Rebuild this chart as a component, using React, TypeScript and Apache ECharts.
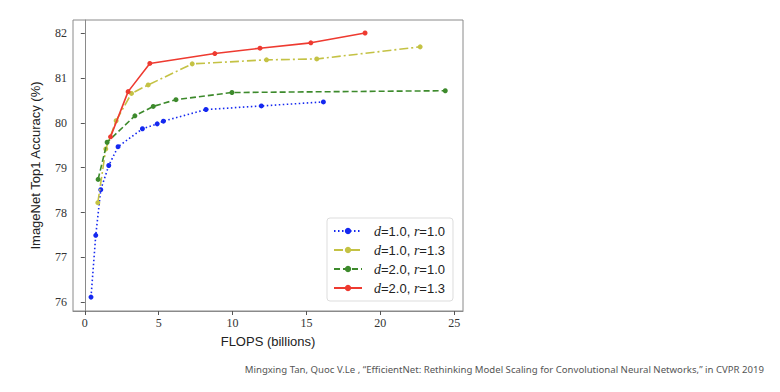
import React, { useEffect, useRef } from "react";
import * as echarts from "echarts";

const seriesNames = ["d=1.0, r=1.0", "d=1.0, r=1.3", "d=2.0, r=1.0", "d=2.0, r=1.3"];

const blueX = [0.42, 0.74, 1.08, 1.62, 2.25, 3.9, 4.9, 5.32, 8.2, 11.95, 16.15];
const blueY = [76.11, 77.49, 78.51, 79.05, 79.47, 79.87, 79.98, 80.04, 80.3, 80.38, 80.47];

const yellowX = [0.88, 1.42, 2.12, 3.16, 4.29, 7.27, 12.3, 15.7, 22.7];
const yellowY = [78.22, 79.42, 80.05, 80.66, 80.85, 81.32, 81.41, 81.43, 81.7];

const greenX = [0.9, 1.51, 3.39, 4.63, 6.17, 9.96, 24.4];
const greenY = [78.74, 79.57, 80.16, 80.37, 80.52, 80.68, 80.72];

const redX = [1.74, 2.93, 4.4, 8.8, 11.86, 15.3, 18.97];
const redY = [79.69, 80.7, 81.33, 81.55, 81.67, 81.79, 82.01];

const xTicks = [0, 5, 10, 15, 20, 25];
const yTicks = [76, 77, 78, 79, 80, 81, 82];

const footnote =
  "Mingxing Tan, Quoc V.Le , \u201cEfficientNet: Rethinking Model Scaling for Convolutional Neural Networks,\u201d in CVPR 2019";

const colors = ["#1428f0", "#c4c244", "#3d8a2c", "#ee3a30"];
const dashes: any[] = [[1.5, 2.5], [9, 3, 2, 3], [6, 3], "solid"];

const zip = (xs: number[], ys: number[]) => xs.map((x, i) => [x, ys[i]]);

export default function App() {
  const ref = useRef<HTMLDivElement>(null);
  useEffect(() => {
    const chart = echarts.init(ref.current!, undefined, { renderer: "svg" });
    const data = [zip(blueX, blueY), zip(yellowX, yellowY), zip(greenX, greenY), zip(redX, redY)];
    const serif = "Liberation Serif";
    const sans = "Liberation Sans";
    const tickLabel = {
      fontFamily: serif,
      fontSize: 12,
      color: "#333",
      margin: 6,
      formatter: "{s|{value}}",
      rich: { s: { fontFamily: serif, fontSize: 12, color: "#333" } },
    };
    chart.setOption({
      animation: false,
      backgroundColor: "#ffffff",
      grid: {
        left: 73,
        top: 20,
        right: 317,
        bottom: 81,
        show: true,
        borderColor: "#8a8a8a",
        borderWidth: 1,
      },
      xAxis: {
        type: "value",
        min: -0.8,
        max: 25.6,
        name: "FLOPS (billions)",
        nameLocation: "middle",
        nameGap: 24,
        nameTextStyle: { fontFamily: sans, fontSize: 13, color: "#222" },
        axisLine: { show: true, lineStyle: { color: "#8a8a8a" } },
        axisTick: { show: true, customValues: xTicks, length: 4, lineStyle: { color: "#555" } },
        axisLabel: { customValues: xTicks, ...tickLabel },
        splitLine: { show: false },
      },
      yAxis: {
        type: "value",
        min: 75.8,
        max: 82.3,
        name: "ImageNet Top1 Accuracy (%)",
        nameLocation: "middle",
        nameGap: 31,
        nameRotate: 90,
        nameTextStyle: { fontFamily: sans, fontSize: 13, color: "#222" },
        axisLine: { show: true, lineStyle: { color: "#8a8a8a" } },
        axisTick: { show: true, customValues: yTicks, length: 4, lineStyle: { color: "#555" } },
        axisLabel: { customValues: yTicks, ...tickLabel },
        splitLine: { show: false },
      },
      legend: {
        orient: "vertical",
        left: 327,
        top: 218,
        width: 130,
        backgroundColor: "#ffffff",
        borderColor: "#dddddd",
        borderWidth: 1,
        borderRadius: 3,
        padding: [6, 8, 6, 6],
        itemWidth: 28,
        itemHeight: 8,
        itemGap: 5,
        textStyle: {
          fontFamily: sans,
          fontSize: 13,
          color: "#222",
          padding: [0, 0, 0, 7],
          rich: {
            i: { fontFamily: serif, fontStyle: "italic", fontSize: 14, color: "#222" },
          },
        },
        formatter: (name: string) => name.replace(/([dr])=/g, "{i|$1}="),
        data: seriesNames,
      },
      series: seriesNames.map((name, i) => ({
        name,
        type: "line",
        data: data[i],
        symbol: "circle",
        symbolSize: 5,
        itemStyle: { color: colors[i] },
        lineStyle: { color: colors[i], width: 1.6, type: dashes[i] },
        z: 2 + i,
      })),
      graphic: [
        {
          type: "text",
          right: 16,
          top: 364,
          style: {
            text: footnote,
            fontFamily: "Noto Sans",
            fontSize: 9.6,
            fill: "#555",
          },
        },
      ],
    });
    return () => chart.dispose();
  }, []);
  return <div ref={ref} style={{ width: 780, height: 392, marginLeft: -8, marginTop: -8 }} />;
}
